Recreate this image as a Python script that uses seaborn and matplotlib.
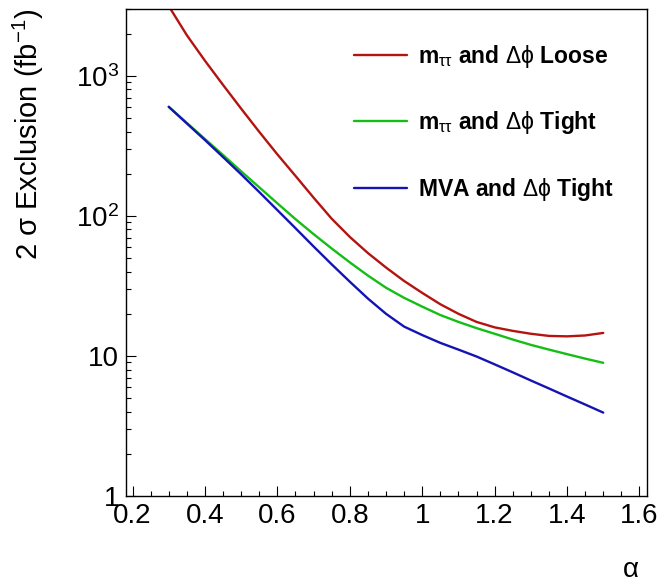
import numpy as np
import pandas as pd
import matplotlib
matplotlib.use("Agg")
import matplotlib.pyplot as plt
import seaborn as sns
from matplotlib.ticker import FixedLocator, FixedFormatter, MultipleLocator, LogLocator, NullFormatter

# ---- data ----
alpha = [0.30, 0.35, 0.40, 0.45, 0.50, 0.55, 0.60, 0.65, 0.70, 0.75, 0.80, 0.85, 0.90,
         0.95, 1.00, 1.05, 1.10, 1.15, 1.20, 1.25, 1.30, 1.35, 1.40, 1.45, 1.50]
loose_mtt = [3148, 1950, 1282, 861, 583, 398, 275, 193, 135, 95.5, 70.8, 54.3, 42.8,
             34.3, 28.2, 23.4, 20.0, 17.5, 16.0, 15.1, 14.4, 13.9, 13.8, 14.0, 14.6]
tight_mtt = [601, 461, 354, 272, 208, 160, 123, 94.8, 74.1, 58.5, 46.6, 37.5, 30.7,
             26.0, 22.5, 19.6, 17.5, 15.8, 14.4, 13.1, 12.0, 11.1, 10.3, 9.57, 8.93]
tight_mva = [601, 457, 348, 263, 198, 148, 110, 81.7, 60.5, 45.1, 33.9, 25.7, 20.0,
             16.2, 14.1, 12.4, 11.1, 9.91, 8.71, 7.64, 6.68, 5.86, 5.13, 4.50, 3.94]
labels = [r"m$_{\mathrm{\tau\tau}}$ and $\mathrm{\Delta\phi}$ Loose",
          r"m$_{\mathrm{\tau\tau}}$ and $\mathrm{\Delta\phi}$ Tight",
          r"MVA and $\mathrm{\Delta\phi}$ Tight"]
colors = ["#b4140f", "#14be14", "#1414b4"]
xticks = [0.2, 0.4, 0.6, 0.8, 1.0, 1.2, 1.4, 1.6]
xticklabels = ["0.2", "0.4", "0.6", "0.8", "1", "1.2", "1.4", "1.6"]
yticks = [1, 10, 100, 1000]
yticklabels = ["1", "10", r"$10^{2}$", r"$10^{3}$"]

df = pd.concat([
    pd.DataFrame({"alpha": alpha, "excl": v, "sel": lab})
    for v, lab in zip([loose_mtt, tight_mtt, tight_mva], labels)
], ignore_index=True)

sns.set_style("white")
plt.rcParams["font.family"] = ["Liberation Sans", "DejaVu Sans"]
plt.rcParams["mathtext.fontset"] = "custom"
plt.rcParams["mathtext.rm"] = "Liberation Sans"
plt.rcParams["mathtext.it"] = "Liberation Sans:italic"
plt.rcParams["mathtext.bf"] = "Liberation Sans:bold"
plt.rcParams["text.color"] = "black"
plt.rcParams["axes.labelcolor"] = "black"

fig = plt.figure(figsize=(6.6, 5.84), dpi=100)
ax = fig.add_axes([126/660, 1-496/584, (646.7-126)/660, (496-9)/584])

sns.lineplot(data=df, x="alpha", y="excl", hue="sel", hue_order=labels,
             palette=colors, linewidth=1.7, ax=ax, sort=True, legend=True)

ax.set_yscale("log")
ax.set_xlim(0.182, 1.62)
ax.set_ylim(1, 3000)

for s in ax.spines.values():
    s.set_visible(True)
    s.set_color("black")
    s.set_linewidth(1.0)

ax.xaxis.set_major_locator(FixedLocator(xticks))
ax.xaxis.set_major_formatter(FixedFormatter(xticklabels))
ax.xaxis.set_minor_locator(MultipleLocator(0.05))
ax.yaxis.set_major_locator(FixedLocator(yticks))
ax.yaxis.set_major_formatter(FixedFormatter(yticklabels))
ax.yaxis.set_minor_locator(LogLocator(base=10, subs=np.arange(2, 10)))
ax.yaxis.set_minor_formatter(NullFormatter())

ax.tick_params(axis="both", which="both", direction="in", top=False, right=False,
               bottom=True, left=True, colors="black", width=0.8)
ax.tick_params(axis="both", which="major", length=7, labelsize=20, pad=5)
ax.tick_params(axis="both", which="minor", length=3.5)

ax.set_xlabel("α", fontsize=20, loc="right")
ax.xaxis.label.set_va("center")
ax.xaxis.set_label_coords(0.985, -0.152)
ax.set_ylabel(r"2 σ Exclusion (fb$^{\mathregular{-1}}$)", fontsize=21, loc="top")
ax.yaxis.label.set_va("center")
ax.yaxis.set_label_coords(-0.188, 1.0)

handles, labs = ax.get_legend_handles_labels()
leg = ax.legend(handles, labs, loc="upper left",
                bbox_to_anchor=(354/660, 1-43/584), bbox_transform=fig.transFigure,
                frameon=False, prop={"weight": "bold", "size": 16.5},
                handlelength=2.3, handletextpad=0.5, labelspacing=1.72,
                borderpad=0, borderaxespad=0)
for h in leg.get_lines():
    h.set_linewidth(1.7)

fig.savefig("out.png", dpi=100)
